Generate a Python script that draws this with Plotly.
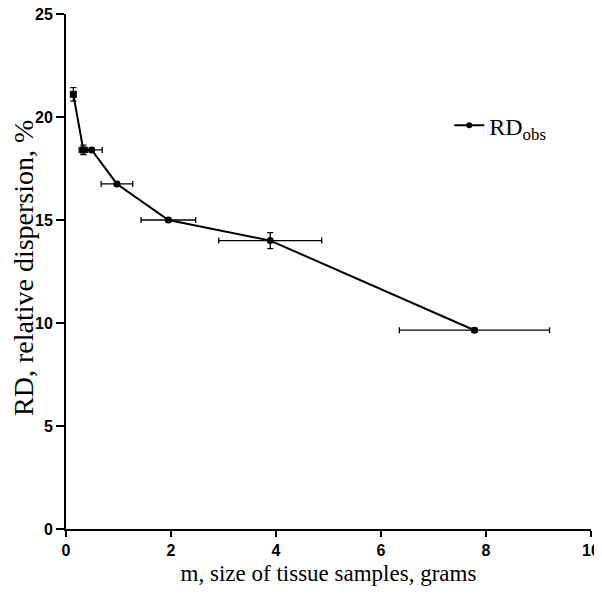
import plotly.graph_objects as go

# sample mass (g) and observed relative dispersion (%)
mass = [0.14, 0.33, 0.49, 0.97, 1.95, 3.89, 7.78]
rd_obs = [21.1, 18.4, 18.4, 16.75, 15.0, 14.0, 9.65]
mass_err = [0.0, 0.08, 0.2, 0.3, 0.52, 0.98, 1.43]
rd_err = [0.33, 0.23, 0.1, 0.1, 0.1, 0.39, 0.1]
symbols = ["square", "square", "circle", "circle", "circle", "circle", "circle"]

x_ticks = [0, 2, 4, 6, 8, 10]
y_ticks = [0, 5, 10, 15, 20, 25]

serif = "Liberation Serif"
sans = "Liberation Sans"

fig = go.Figure()

fig.add_trace(go.Scatter(
    x=mass, y=rd_obs,
    mode="lines+markers",
    showlegend=False,
    line=dict(color="black", width=2),
    marker=dict(color="black", size=7, symbol=symbols),
    error_x=dict(type="data", array=mass_err, color="black", thickness=1.3, width=3),
    error_y=dict(type="data", array=rd_err, color="black", thickness=1.3, width=3),
))

# legend entry only (circle marker like the original key)
fig.add_trace(go.Scatter(
    x=[None], y=[None],
    mode="lines+markers",
    name="RD<sub>obs</sub>",
    line=dict(color="black", width=2),
    marker=dict(color="black", size=6, symbol="circle"),
))

# y title placed by hand, it sits closer to the ticks than plotly allows
fig.add_annotation(
    text="RD, relative dispersion, %",
    xref="paper", yref="paper", x=-0.08, y=0.507,
    xanchor="center", yanchor="middle", textangle=-90, showarrow=False,
    font=dict(family=serif, size=28, color="black"),
)

# page body has an 8px margin, so the figure is smaller than the window
fig.update_layout(
    width=594, height=578,
    plot_bgcolor="white", paper_bgcolor="white",
    margin=dict(l=58, r=11, t=6, b=57),
    showlegend=True,
    legend=dict(
        x=0.73, y=0.783, xanchor="left", yanchor="middle",
        font=dict(family=serif, size=24, color="black"),
        bgcolor="rgba(0,0,0,0)",
        itemwidth=30,
    ),
    xaxis=dict(
        range=[0, 10], tickvals=x_ticks, automargin=False,
        ticklabeloverflow="allow",
        showline=True, linecolor="black", linewidth=2,
        ticks="outside", ticklen=6, tickwidth=2, tickcolor="black",
        showgrid=False, zeroline=False,
        tickfont=dict(family=sans, size=16, color="black", weight="bold"),
        title=dict(text="m, size of tissue samples, grams",
                   font=dict(family=serif, size=23, color="black"), standoff=8),
    ),
    yaxis=dict(
        range=[0, 25], tickvals=y_ticks, automargin=False,
        ticklabeloverflow="allow",
        showline=True, linecolor="black", linewidth=2,
        ticks="outside", ticklen=8, tickwidth=2, tickcolor="black",
        showgrid=False, zeroline=False,
        tickfont=dict(family=sans, size=16, color="black", weight="bold"),
    ),
)

fig.write_html("out.html")
